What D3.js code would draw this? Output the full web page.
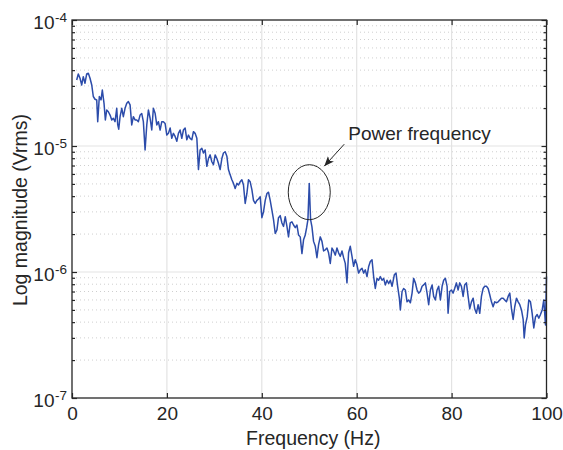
<!DOCTYPE html>
<html>
<head>
<meta charset="utf-8">
<script src="https://cdn.jsdelivr.net/npm/d3@7"></script>
<style>
  body { margin: 0; background: #fff; }
  #chart { width: 563px; height: 450px; }
  text { font-family: "Liberation Sans", Arial, Helvetica, sans-serif; fill: #262626; }
</style>
</head>
<body>
<div id="chart"></div>
<script>
// spectrum: frequency (Hz) and magnitude (micro Vrms)
const freqHz = [
  0.99, 1.33, 1.69, 2.05, 2.38, 2.74, 3.10, 3.44, 3.80, 4.16,
  4.49, 4.85, 5.21, 5.42, 5.76, 6.12, 6.39, 6.75, 7.03, 7.32,
  7.66, 8.02, 8.38, 8.71, 9.07, 9.43, 9.64, 9.85, 10.13, 10.49,
  10.82, 11.18, 11.54, 11.88, 12.24, 12.59, 12.93, 13.29, 13.65, 13.99,
  14.35, 14.70, 15.04, 15.40, 15.76, 16.10, 16.46, 16.81, 17.15, 17.51,
  17.87, 18.21, 18.57, 18.92, 19.26, 19.62, 19.98, 20.32, 20.68, 21.03,
  21.37, 21.73, 22.09, 22.43, 22.78, 23.14, 23.48, 23.84, 24.20, 24.54,
  24.89, 25.25, 25.59, 25.95, 26.31, 26.65, 27.00,
  27.36, 27.70, 28.06, 28.42, 28.76, 29.11, 29.47, 29.81, 30.17, 30.53,
  30.86, 31.22, 31.58, 31.92, 32.28, 32.64, 32.97, 33.33, 33.69, 34.03,
  34.39, 34.75, 35.08, 35.44, 35.80, 36.14, 36.50, 36.86, 37.19, 37.55,
  37.91, 38.25, 38.61, 38.97, 39.30, 39.66, 40.02, 40.36, 40.72, 41.08,
  41.41, 41.77, 42.13, 42.47, 42.83, 43.19, 43.52, 43.88, 44.24, 44.58,
  44.94, 45.30, 45.63, 45.99, 46.35, 46.69, 47.05, 47.41, 47.74, 48.10,
  48.46, 48.80, 49.16,
  49.45, 49.72, 50.00, 50.28, 50.57,
  50.91, 51.27, 51.62, 51.96, 52.32, 52.68, 53.02, 53.38, 53.73, 54.07,
  54.43, 54.79, 55.13, 55.49, 55.84, 56.18, 56.54, 56.90, 57.24, 57.59,
  57.95, 58.29, 58.65, 59.01, 59.35, 59.70, 60.06, 60.40, 60.76, 61.12,
  61.46, 61.81, 62.17, 62.51, 62.87, 63.23, 63.57, 63.92, 64.28, 64.62,
  64.98, 65.34, 65.68, 66.03, 66.39, 66.73, 67.09, 67.45,
  67.93, 68.29, 68.63, 68.99, 69.20, 69.56, 69.89, 70.25, 70.61, 70.95,
  71.31, 71.67, 72.00, 72.36, 72.72, 73.06, 73.42, 73.78, 74.11, 74.47,
  74.83, 75.17, 75.53, 75.89, 76.22, 76.58, 76.94, 77.28, 77.64, 78.00,
  78.33, 78.69, 79.05, 79.26, 79.60, 79.96, 80.32, 80.65, 81.01, 81.37,
  81.71, 82.07, 82.43, 82.76, 83.12, 83.48, 83.82, 84.18, 84.54, 84.87,
  85.23, 85.59, 85.93, 86.29, 86.64, 86.98, 87.34, 87.70, 88.04, 88.40,
  88.75, 89.09, 89.45, 89.81, 90.15, 90.51, 90.86, 91.20, 91.56, 91.92,
  92.26, 92.62, 92.97, 93.31, 93.67, 94.03, 94.37, 94.73, 95.08, 95.30,
  95.57, 95.93, 96.27, 96.62, 96.98, 97.32, 97.68, 98.04, 98.38, 98.73,
  99.09, 99.43, 99.79, 100.0,
];

const magnitudeUv = [
  33.4, 37.3, 34.5, 30.5, 35.5, 31.5, 37.3, 37.8, 34.5, 30.5,
  24.7, 23.5, 23.2, 15.6, 24.7, 23.2, 27.8, 21.8, 16.1, 19.3,
  18.7, 17.6, 16.1, 16.6, 15.6, 19.9, 14.7, 13.6, 17.1, 19.9,
  17.1, 19.9, 21.8, 22.5, 21.2, 14.7, 17.1, 16.1, 16.1, 15.6,
  17.6, 18.1, 15.6, 9.3, 14.7, 19.3, 16.6, 13.4, 19.9, 18.2,
  14.7, 15.6, 13.4, 15.6, 15.6, 15.1, 12.2, 12.6, 13.9, 11.5,
  12.6, 11.9, 10.9, 12.6, 13.4, 11.5, 13.4, 13.9, 11.2, 12.2,
  11.5, 11.2, 13.0, 12.6, 11.5, 6.5, 9.3,
  9.6, 8.8, 9.3, 6.9, 7.95, 8.5, 7.5, 7.1, 8.5, 7.95,
  7.3, 6.5, 7.95, 8.8, 9.0, 8.3, 6.5, 5.9, 5.4, 5.05,
  4.6, 5.05, 4.9, 5.2, 5.4, 4.9, 3.5, 4.2, 5.4, 5.2,
  4.5, 3.7, 3.5, 3.7, 3.8, 3.95, 2.7, 3.0, 3.7, 4.2,
  4.3, 3.7, 3.1, 2.6, 2.02, 2.16, 2.7, 2.8, 2.45, 2.3,
  2.75, 2.3, 1.9, 2.45, 2.5, 2.36, 2.25, 2.36, 1.97, 1.9,
  1.4, 1.8, 1.97,
  2.25, 2.6, 5.05, 2.6, 2.28,
  1.75, 1.6, 1.3, 1.64, 1.9, 1.75, 1.47, 1.50, 1.55, 1.42,
  1.17, 1.55, 1.47, 1.36, 1.55, 1.42, 1.33, 1.47, 1.30, 1.17,
  0.82, 1.42, 1.6, 1.33, 1.11, 1.25, 1.14, 0.98, 1.04, 1.07,
  0.98, 1.04, 0.92, 1.10, 1.21, 1.25, 0.92, 0.74, 0.89, 0.86,
  0.92, 0.86, 0.89, 0.79, 0.86, 0.81, 0.86, 0.77,
  0.95, 0.98, 0.77, 0.62, 0.50, 0.70, 0.74, 0.72, 0.58, 0.60,
  0.57, 0.68, 0.89, 0.82, 0.72, 0.68, 0.70, 0.77, 0.79, 0.82,
  0.68, 0.55, 0.72, 0.79, 0.64, 0.60, 0.72, 0.77, 0.60, 0.77,
  0.86, 0.89, 0.77, 0.47, 0.70, 0.72, 0.68, 0.74, 0.82, 0.72,
  0.82, 0.77, 0.64, 0.79, 0.82, 0.64, 0.51, 0.58, 0.62, 0.51,
  0.47, 0.55, 0.47, 0.64, 0.74, 0.77, 0.77, 0.74, 0.66, 0.58,
  0.53, 0.58, 0.57, 0.58, 0.60, 0.62, 0.62, 0.60, 0.58, 0.64,
  0.68, 0.51, 0.42, 0.53, 0.62, 0.58, 0.55, 0.50, 0.42, 0.30,
  0.38, 0.44, 0.60, 0.58, 0.47, 0.36, 0.44, 0.46, 0.43, 0.46,
  0.50, 0.60, 0.38, 0.92,
];

const xTicks = [0, 20, 40, 60, 80, 100];
const yDecades = [-7, -6, -5, -4];
const xLabel = 'Frequency (Hz)';
const yLabel = 'Log magnitude (Vrms)';

// annotation around the 50 Hz line
const peakHz = 50;
const peakRingUv = 4.3;
const peakNote = 'Power frequency';

class SpectrumChart {
  constructor(containerId) {
    this.containerId = containerId;
    this.data = freqHz.map((f, i) => ({ f, v: magnitudeUv[i] * 1e-6 }));
    this.init();
    this.render();
  }

  init() {
    const vis = this;

    vis.chartContainer = d3.select(`#${vis.containerId}`);
    vis.margin = { top: 20, right: 16.5, bottom: 52, left: 72 };
    vis.width = 563 - vis.margin.left - vis.margin.right;
    vis.height = 450 - vis.margin.top - vis.margin.bottom;

    vis.svgRoot = vis.chartContainer.append('svg')
      .attr('width', 563)
      .attr('height', 450);

    vis.svg = vis.svgRoot.append('g')
      .attr('transform', `translate(${vis.margin.left},${vis.margin.top})`);

    vis.xScale = d3.scaleLinear().domain([0, 100]).range([0, vis.width]);
    vis.yScale = d3.scaleLog()
      .domain([Math.pow(10, yDecades[0]), Math.pow(10, yDecades[yDecades.length - 1])])
      .range([vis.height, 0]);

    // minor values 2..9 in every decade
    vis.minorValues = [];
    yDecades.slice(0, -1).forEach((e) => {
      for (let k = 2; k <= 9; k++) vis.minorValues.push(k * Math.pow(10, e));
    });
    vis.majorValues = yDecades.map((e) => Math.pow(10, e));
  }

  render() {
    const vis = this;

    vis.renderGrid();

    const line = d3.line()
      .x((d) => vis.xScale(d.f))
      .y((d) => vis.yScale(d.v));

    vis.svg.append('path')
      .datum(vis.data)
      .attr('fill', 'none')
      .attr('stroke', '#2c4caa')
      .attr('stroke-width', 1.5)
      .attr('stroke-linejoin', 'round')
      .attr('d', line);

    vis.renderAxes();
    vis.renderAnnotation();
  }

  renderGrid() {
    const vis = this;
    const grid = vis.svg.append('g').attr('class', 'grid');

    grid.selectAll('.minor')
      .data(vis.minorValues)
      .enter()
      .append('line')
      .attr('x1', 0)
      .attr('x2', vis.width)
      .attr('y1', (d) => vis.yScale(d))
      .attr('y2', (d) => vis.yScale(d))
      .attr('stroke', '#cfcfcf')
      .attr('stroke-width', 1)
      .attr('stroke-dasharray', '1 3');

    grid.selectAll('.major-y')
      .data(vis.majorValues.slice(1, -1))
      .enter()
      .append('line')
      .attr('x1', 0)
      .attr('x2', vis.width)
      .attr('y1', (d) => vis.yScale(d))
      .attr('y2', (d) => vis.yScale(d))
      .attr('stroke', '#e3e3e3')
      .attr('stroke-width', 1.2);

    grid.selectAll('.major-x')
      .data(xTicks.slice(1, -1))
      .enter()
      .append('line')
      .attr('x1', (d) => vis.xScale(d))
      .attr('x2', (d) => vis.xScale(d))
      .attr('y1', 0)
      .attr('y2', vis.height)
      .attr('stroke', '#e3e3e3')
      .attr('stroke-width', 1.2);
  }

  renderAxes() {
    const vis = this;
    const axisColor = '#262626';

    const style = (g) => {
      g.select('.domain').remove();
      g.selectAll('.tick line').attr('stroke', axisColor).attr('stroke-width', 1.2);
      g.selectAll('.tick text')
        .attr('fill', axisColor)
        .style('font-size', '19px');
    };

    vis.svg.append('g')
      .attr('transform', `translate(0,${vis.height})`)
      .call(d3.axisBottom(vis.xScale).tickValues(xTicks).tickSizeInner(-5).tickSizeOuter(0).tickPadding(9))
      .call(style);

    vis.svg.append('g')
      .call(d3.axisTop(vis.xScale).tickValues(xTicks).tickSizeInner(-5).tickSizeOuter(0).tickFormat(''))
      .call(style);

    // major and minor y ticks, both sides
    [[d3.axisLeft, 0], [d3.axisRight, vis.width]].forEach(([axisFn, xPos]) => {
      vis.svg.append('g')
        .attr('transform', `translate(${xPos},0)`)
        .call(axisFn(vis.yScale).tickValues(vis.majorValues).tickSizeInner(-5).tickSizeOuter(0).tickFormat(''))
        .call(style);
      vis.svg.append('g')
        .attr('transform', `translate(${xPos},0)`)
        .call(axisFn(vis.yScale).tickValues(vis.minorValues).tickSizeInner(-3).tickSizeOuter(0).tickFormat(''))
        .call(style);
    });

    // box
    vis.svg.append('rect')
      .attr('width', vis.width)
      .attr('height', vis.height)
      .attr('fill', 'none')
      .attr('stroke', axisColor)
      .attr('stroke-width', 1.3);

    // 10^n labels
    const yLabels = vis.svg.append('g').attr('class', 'y-labels');
    yDecades.forEach((e) => {
      const yPos = vis.yScale(Math.pow(10, e));
      yLabels.append('text')
        .attr('x', -17.5)
        .attr('y', yPos + 8.5)
        .attr('text-anchor', 'end')
        .style('font-size', '19px')
        .text('10');
      yLabels.append('text')
        .attr('x', -17)
        .attr('y', yPos + 1.5)
        .style('font-size', '13.5px')
        .text(`-${Math.abs(e)}`);
    });

    vis.svg.append('text')
      .attr('x', vis.width / 2 + 4)
      .attr('y', vis.height + 47)
      .attr('text-anchor', 'middle')
      .style('font-size', '19.5px')
      .text(xLabel);

    vis.svg.append('text')
      .attr('transform', `translate(${27 - vis.margin.left},${vis.height / 2 + 1}) rotate(-90)`)
      .attr('text-anchor', 'middle')
      .style('font-size', '19.5px')
      .text(yLabel);
  }

  renderAnnotation() {
    const vis = this;
    const cx = vis.xScale(peakHz);
    const cy = vis.yScale(peakRingUv * 1e-6);

    vis.svgRoot.append('defs')
      .append('marker')
      .attr('id', 'arrow-head')
      .attr('viewBox', '0 -5 10 10')
      .attr('refX', 10)
      .attr('refY', 0)
      .attr('markerWidth', 10)
      .attr('markerHeight', 10)
      .attr('markerUnits', 'userSpaceOnUse')
      .attr('orient', 'auto')
      .append('path')
      .attr('d', 'M0,-4L10,0L0,4L2.5,0Z')
      .attr('fill', '#262626');

    vis.svg.append('ellipse')
      .attr('cx', cx)
      .attr('cy', cy)
      .attr('rx', 21)
      .attr('ry', 27.5)
      .attr('fill', 'none')
      .attr('stroke', '#262626')
      .attr('stroke-width', 1);

    vis.svg.append('line')
      .attr('x1', cx + 35)
      .attr('y1', cy - 48)
      .attr('x2', cx + 15)
      .attr('y2', cy - 26)
      .attr('stroke', '#262626')
      .attr('stroke-width', 1)
      .attr('marker-end', 'url(#arrow-head)');

    vis.svg.append('text')
      .attr('x', cx + 39)
      .attr('y', cy - 52.5)
      .style('font-size', '19px')
      .text(peakNote);
  }
}

new SpectrumChart('chart');
</script>
</body>
</html>
